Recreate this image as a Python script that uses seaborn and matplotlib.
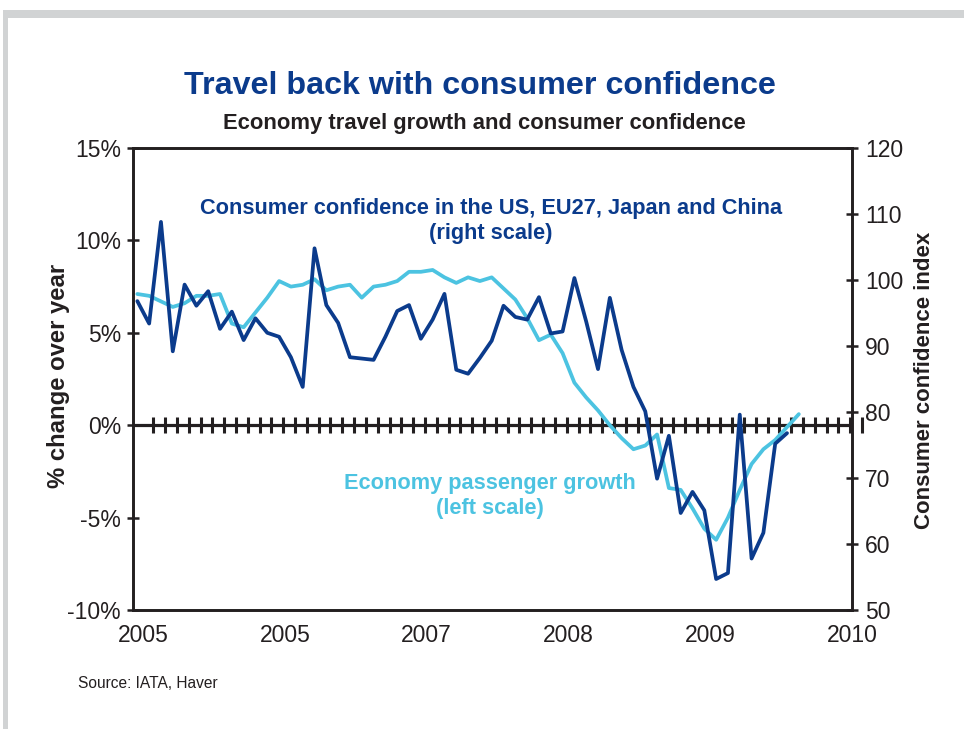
import numpy as np
import pandas as pd
import matplotlib
matplotlib.use('Agg')
from matplotlib import pyplot as plt
from matplotlib.patches import Rectangle
import seaborn as sns

# Economy passenger growth, % change over year (left scale), monthly from Jan 2005
passenger_growth = [7.1, 7.0, 6.7, 6.4, 6.6, 7.0, 7.0, 7.1, 5.5, 5.3,
                    6.1, 6.9, 7.8, 7.5, 7.6, 7.9, 7.3, 7.5, 7.6, 6.9,
                    7.5, 7.6, 7.8, 8.3, 8.3, 8.4, 8.0, 7.7, 8.0, 7.8,
                    8.0, 7.4, 6.8, 5.8, 4.6, 4.9, 3.9, 2.3, 1.5, 0.8,
                    0.0, -0.7, -1.3, -1.1, -0.5, -3.4, -3.5, -4.5, -5.6, -6.2,
                    -5.0, -3.5, -2.1, -1.3, -0.8, -0.1, 0.6]

# Consumer confidence index, US/EU27/Japan/China (right scale), monthly from Jan 2005
confidence_index = [96.8, 93.4, 108.8, 89.2, 99.3, 96.1, 98.3, 92.6, 95.2, 90.9,
                    94.2, 92.0, 91.4, 88.3, 83.8, 104.8, 96.2, 93.5, 88.3, 88.1,
                    87.9, 91.4, 95.3, 96.2, 91.1, 94.0, 97.9, 86.4, 85.8, 88.2,
                    90.8, 96.1, 94.4, 94.0, 97.4, 91.9, 92.2, 100.3, 93.7, 86.5,
                    97.3, 89.4, 83.8, 80.1, 69.9, 76.4, 64.7, 67.9, 65.1, 54.7,
                    55.6, 79.6, 57.8, 61.7, 75.2, 76.8]

year_ticks = [2005, 2006, 2007, 2008, 2009, 2010]
year_labels = ['2005', '2005', '2007', '2008', '2009', '2010']
left_ticks = [-10, -5, 0, 5, 10, 15]
right_ticks = [50, 60, 70, 80, 90, 100, 110, 120]

DARK = '#0b3b8c'
LIGHT = '#4cc3e1'
INK = '#231f20'

sns.set_style('white')
plt.rcParams['font.family'] = ['Liberation Sans', 'DejaVu Sans']

growth = pd.DataFrame({'year': 2005 + np.arange(len(passenger_growth)) / 12.0,
                       'growth': passenger_growth})
conf = pd.DataFrame({'year': 2005 + np.arange(len(confidence_index)) / 12.0,
                     'index': confidence_index})

fig = plt.figure(figsize=(9.64, 7.29), dpi=100)
ax = fig.add_axes([0.1377, 0.1632, 0.7461, 0.6338])
ax2 = ax.twinx()

# zero line with monthly tick marks
ax.axhline(0, color=INK, lw=2.3, zorder=1)
month_marks = 2005 + (np.arange(61) + 1.35) / 12.0
ax.plot(month_marks, np.zeros(len(month_marks)), linestyle='none', marker='|',
        markersize=11.5, markeredgewidth=2.2, color=INK, clip_on=False, zorder=1)

sns.lineplot(data=growth, x='year', y='growth', ax=ax, color=LIGHT, linewidth=2.7, zorder=3)
sns.lineplot(data=conf, x='year', y='index', ax=ax2, color=DARK, linewidth=2.7, zorder=3)

ax.set_xlim(2004.9676, 2010.040)
ax.set_ylim(-10, 15)
ax2.set_ylim(50, 120)
ax.set_xticks([y + 1 / 24.0 for y in year_ticks])
ax.set_xticklabels(year_labels)
ax.set_yticks(left_ticks)
ax.set_yticklabels(['{}%'.format(v) for v in left_ticks])
ax2.set_yticks(right_ticks)
ax2.set_yticklabels([str(v) for v in right_ticks])
ax.set_xlabel('')
ax.set_ylabel('')
ax2.set_ylabel('')

for a in (ax, ax2):
    for s in a.spines.values():
        s.set_visible(True)
        s.set_color(INK)
        s.set_linewidth(1.9)
ax.tick_params(axis='x', length=0, pad=10, labelsize=16.5, colors=INK)
ax.tick_params(axis='y', direction='inout', length=9, width=1.8, pad=4,
               labelsize=16.5, colors=INK, right=False)
ax2.tick_params(axis='y', direction='inout', length=9, width=1.8, pad=5,
                labelsize=16.5, colors=INK, left=False)
ax2.tick_params(axis='x', length=0)

# titles and notes
fig.text(480 / 964, 1 - 86 / 729, 'Travel back with consumer confidence',
         ha='center', va='center', fontsize=23.2, fontweight='bold', color=DARK)
fig.text(484 / 964, 1 - 123 / 729, 'Economy travel growth and consumer confidence',
         ha='center', va='center', fontsize=15.8, fontweight='bold', color=INK)
fig.text(491 / 964, 1 - 221 / 729,
         'Consumer confidence in the US, EU27, Japan and China\n(right scale)',
         ha='center', va='center', fontsize=15.7, fontweight='bold', color=DARK,
         linespacing=1.25)
fig.text(490 / 964, 1 - 496 / 729, 'Economy passenger growth\n(left scale)',
         ha='center', va='center', fontsize=15.7, fontweight='bold', color=LIGHT,
         linespacing=1.25)
fig.text(58 / 964, 1 - 376 / 729, '% change over year', rotation=90,
         ha='center', va='center', fontsize=17.2, fontweight='bold', color=INK)
fig.text(925 / 964, 1 - 380 / 729, 'Consumer confidence index', rotation=90,
         ha='center', va='center', fontsize=16, fontweight='bold', color=INK)
fig.text(78 / 964, 1 - 683 / 729, 'Source: IATA, Haver',
         ha='left', va='center', fontsize=11.2, color=INK)

# grey frame on the top and left edges
fig.add_artist(Rectangle((3 / 964, 1 - 18 / 729), 961 / 964, 8 / 729,
                         transform=fig.transFigure, color='#d1d3d4', lw=0))
fig.add_artist(Rectangle((3 / 964, 0), 5 / 964, 1 - 10 / 729,
                         transform=fig.transFigure, color='#d1d3d4', lw=0))

fig.savefig('out.png', dpi=100)
